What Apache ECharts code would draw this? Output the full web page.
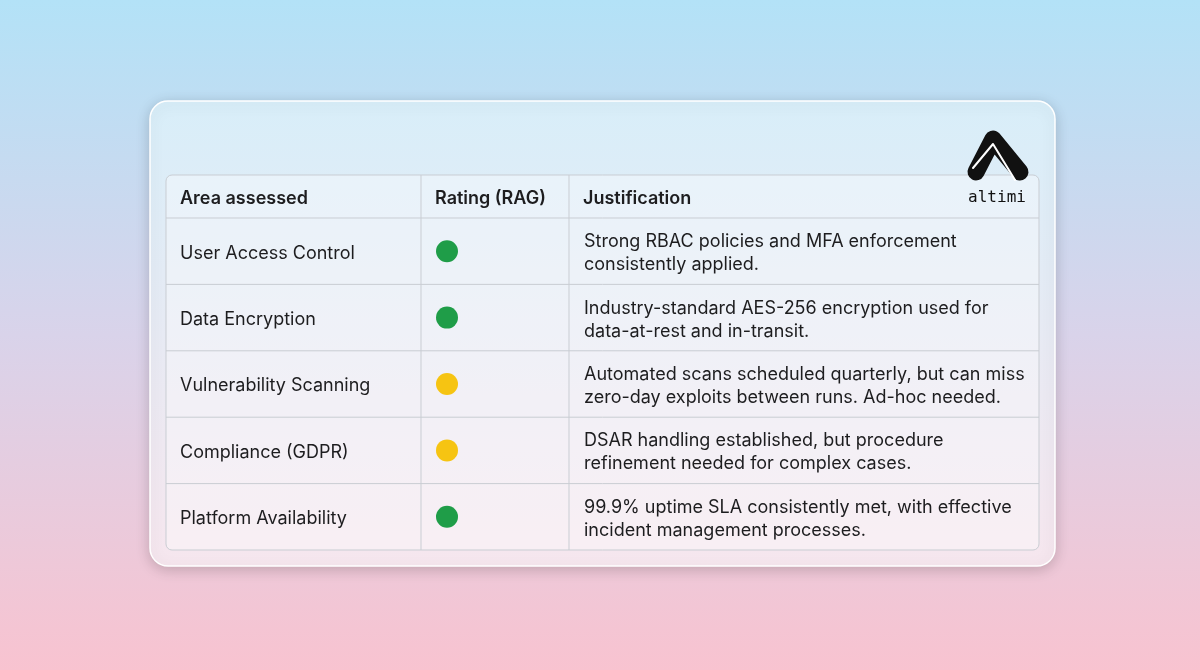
<!DOCTYPE html>
<html>
<head>
<meta charset="utf-8">
<script src="https://cdn.jsdelivr.net/npm/echarts@6/dist/echarts.min.js"></script>
<style>
  html, body { margin: 0; padding: 0; }
  #chart { width: 1200px; height: 670px; }
</style>
</head>
<body>
<div id="chart"></div>
<script>
// table data
const headers = ['Area assessed', 'Rating (RAG)', 'Justification'];
const areas = [
  'User Access Control',
  'Data Encryption',
  'Vulnerability Scanning',
  'Compliance (GDPR)',
  'Platform Availability'
];
const ratings = ['green', 'green', 'amber', 'amber', 'green'];
const justifications = [
  ['Strong RBAC policies and MFA enforcement', 'consistently applied.'],
  ['Industry-standard AES-256 encryption used for', 'data-at-rest and in-transit.'],
  ['Automated scans scheduled quarterly, but can miss', 'zero-day exploits between runs. Ad-hoc needed.'],
  ['DSAR handling established, but procedure', 'refinement needed for complex cases.'],
  ['99.9% uptime SLA consistently met, with effective', 'incident management processes.']
];

const ragColors = { green: '#1f9d48', amber: '#f6c412', red: '#e5484d' };
const font = 'Inter, "Noto Sans", sans-serif';
const textColor = '#1d1d1f';
const lineColor = '#c9cdd3';

const colX = [166, 421, 569, 1039];
const headTop = 175, headBottom = 218, rowH = 66.4;

let chart = echarts.init(document.getElementById('chart'));
let g = [];

// page background
g.push({
  type: 'rect', shape: { x: 0, y: 0, width: 1200, height: 670 },
  style: {
    fill: new echarts.graphic.LinearGradient(0, 0, 0, 1, [
      { offset: 0, color: '#b3e2f7' },
      { offset: 0.5, color: '#d9d3ea' },
      { offset: 1, color: '#f8c3d0' }
    ])
  }
});
// card
g.push({
  type: 'rect', shape: { x: 150, y: 101, width: 905, height: 465, r: 18 },
  style: {
    fill: new echarts.graphic.LinearGradient(0, 0, 0, 1, [
      { offset: 0, color: '#d8eef9' },
      { offset: 1, color: '#f6e6ee' }
    ]),
    stroke: '#ffffff', lineWidth: 1.5,
    shadowBlur: 14, shadowColor: 'rgba(0,0,0,0.18)', shadowOffsetY: 3
  }
});
// table body
const tableBottom = headBottom + rowH * areas.length;
g.push({
  type: 'rect', shape: { x: colX[0], y: headTop, width: colX[3] - colX[0], height: tableBottom - headTop, r: 6 },
  style: { fill: 'rgba(255,255,255,0.35)', stroke: lineColor, lineWidth: 1 }
});
// vertical lines
[colX[1], colX[2]].forEach(function (x) {
  g.push({ type: 'line', shape: { x1: x, y1: headTop, x2: x, y2: tableBottom }, style: { stroke: lineColor, lineWidth: 1 } });
});
// horizontal lines
for (let i = 0; i < areas.length; i++) {
  const y = headBottom + rowH * i;
  g.push({ type: 'line', shape: { x1: colX[0], y1: y, x2: colX[3], y2: y }, style: { stroke: lineColor, lineWidth: 1 } });
}
// header
headers.forEach(function (h, i) {
  g.push({
    type: 'text', x: colX[i] + 14, y: (headTop + headBottom) / 2 + 2,
    style: { text: h, font: '600 18px ' + font, fill: textColor, verticalAlign: 'middle' }
  });
});
// rows
areas.forEach(function (a, i) {
  const cy = headBottom + rowH * i + rowH / 2;
  g.push({
    type: 'text', x: colX[0] + 14, y: cy + 2,
    style: { text: a, font: '18px ' + font, fill: textColor, verticalAlign: 'middle' }
  });
  g.push({
    type: 'circle', shape: { cx: colX[1] + 26, cy: cy, r: 11 },
    style: { fill: ragColors[ratings[i]] }
  });
  g.push({
    type: 'text', x: colX[2] + 15, y: cy + 2,
    style: { text: justifications[i].join('\n'), font: '18px ' + font, lineHeight: 23, fill: textColor, verticalAlign: 'middle' }
  });
});
// logo
g.push({
  type: 'polyline', shape: { points: [[976, 172], [993, 139], [1020, 172]] },
  style: { stroke: '#111', lineWidth: 17, lineCap: 'round', lineJoin: 'round', fill: null }
});
g.push({
  type: 'polyline', shape: { points: [[973, 168], [993, 144], [1015, 180]] },
  style: { stroke: '#ffffff', lineWidth: 2, lineCap: 'round', lineJoin: 'round', fill: null }
});
g.push({
  type: 'text', x: 997, y: 198,
  style: { text: 'altimi', font: '16px "DejaVu Sans Mono", monospace', fill: '#111', align: 'center', verticalAlign: 'middle' }
});

chart.setOption({ graphic: { elements: g } });
</script>
</body>
</html>
